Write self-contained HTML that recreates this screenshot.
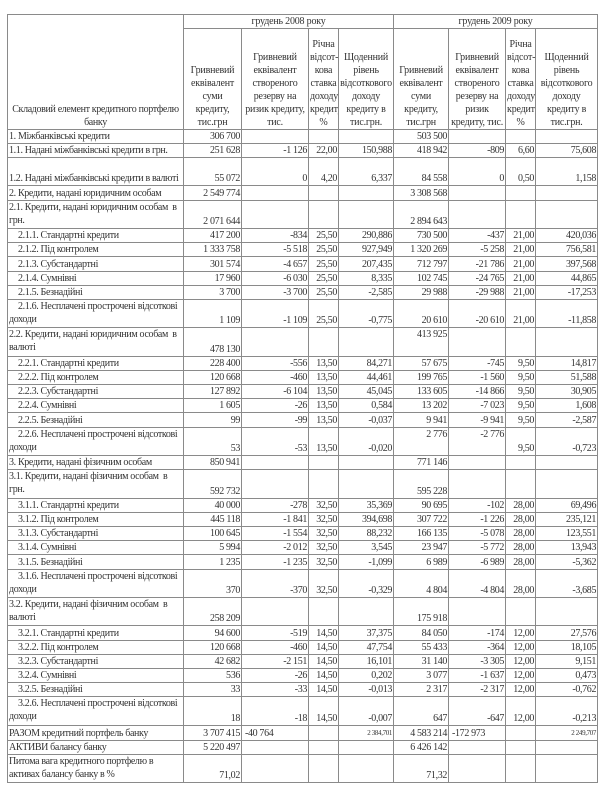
<!DOCTYPE html>
<html><head><meta charset="utf-8">
<style>
html,body{margin:0;padding:0;background:#fff;width:604px;height:795px;overflow:hidden}
table{position:absolute;left:7px;top:14px;border-collapse:collapse;table-layout:fixed;width:591px;
font-family:"Liberation Serif","DejaVu Serif",serif;font-size:10px;color:#333;letter-spacing:-0.35px}
td{border:1px solid #8a8a8a;padding:0 1px;line-height:13px;vertical-align:bottom;text-align:right;white-space:nowrap;overflow:hidden}
td.l{text-align:left;white-space:normal}
td.i{padding-left:10px}
td.t{vertical-align:top}
tr.s{height:14.2px}
tr.d{height:28.4px}
tr.d td.l{vertical-align:top}
.h td{text-align:center;white-space:normal;line-height:13px;padding:0 1px;letter-spacing:-0.2px}
.sm{font-size:7px}
</style></head><body>
<table>
<colgroup><col style="width:176px"><col style="width:58px"><col style="width:67px"><col style="width:30px"><col style="width:55px"><col style="width:55px"><col style="width:57px"><col style="width:30px"><col style="width:62px"></colgroup>
<tr class="h" style="height:13px"><td rowspan="2" style="letter-spacing:-0.35px">Складовий елемент кредитного портфелю банку</td><td colspan="4" style="vertical-align:top">грудень 2008 року</td><td colspan="4" style="vertical-align:top">грудень 2009 року</td></tr>
<tr class="h" style="height:101px"><td>Гривневий еквівалент суми кредиту, тис.грн</td><td>Гривневий еквівалент створеного резерву на ризик кредиту, тис.</td><td>Річна відсот-кова ставка доходу кредиту, %</td><td>Щоденний рівень відсоткового доходу кредиту в тис.грн.</td><td>Гривневий еквівалент суми кредиту, тис.грн</td><td>Гривневий еквівалент створеного резерву на ризик кредиту, тис.</td><td>Річна відсот-кова ставка доходу кредиту, %</td><td>Щоденний рівень відсоткового доходу кредиту в тис.грн.</td></tr>
<tr class="s" style="height:12px"><td class="l">1. Міжбанківські кредити</td><td>306 700</td><td></td><td></td><td></td><td>503 500</td><td></td><td></td><td></td></tr>
<tr class="s" style="height:13px"><td class="l">1.1. Надані міжбанківські кредити в грн.</td><td>251 628</td><td>-1 126</td><td>22,00</td><td>150,988</td><td>418 942</td><td>-809</td><td>6,60</td><td>75,608</td></tr>
<tr class="d"><td class="l" style="vertical-align:bottom">1.2. Надані міжбанківські кредити в валюті</td><td>55 072</td><td>0</td><td>4,20</td><td>6,337</td><td>84 558</td><td>0</td><td>0,50</td><td>1,158</td></tr>
<tr class="s"><td class="l">2. Кредити, надані юридичним особам</td><td>2 549 774</td><td></td><td></td><td></td><td>3 308 568</td><td></td><td></td><td></td></tr>
<tr class="d"><td class="l">2.1. Кредити, надані юридичним особам&nbsp; в грн.</td><td>2 071 644</td><td></td><td></td><td></td><td>2 894 643</td><td></td><td></td><td></td></tr>
<tr class="s"><td class="l i">2.1.1. Стандартні кредити</td><td>417 200</td><td>-834</td><td>25,50</td><td>290,886</td><td>730 500</td><td>-437</td><td>21,00</td><td>420,036</td></tr>
<tr class="s"><td class="l i">2.1.2. Під контролем</td><td>1 333 758</td><td>-5 518</td><td>25,50</td><td>927,949</td><td>1 320 269</td><td>-5 258</td><td>21,00</td><td>756,581</td></tr>
<tr class="s"><td class="l i">2.1.3. Субстандартні</td><td>301 574</td><td>-4 657</td><td>25,50</td><td>207,435</td><td>712 797</td><td>-21 786</td><td>21,00</td><td>397,568</td></tr>
<tr class="s"><td class="l i">2.1.4. Сумнівні</td><td>17 960</td><td>-6 030</td><td>25,50</td><td>8,335</td><td>102 745</td><td>-24 765</td><td>21,00</td><td>44,865</td></tr>
<tr class="s"><td class="l i">2.1.5. Безнадійні</td><td>3 700</td><td>-3 700</td><td>25,50</td><td>-2,585</td><td>29 988</td><td>-29 988</td><td>21,00</td><td>-17,253</td></tr>
<tr class="d"><td class="l"><span style="padding-left:9px">2.1.6. Несплачені прострочені відсоткові</span> доходи</td><td>1 109</td><td>-1 109</td><td>25,50</td><td>-0,775</td><td>20 610</td><td>-20 610</td><td>21,00</td><td>-11,858</td></tr>
<tr class="d"><td class="l">2.2. Кредити, надані юридичним особам&nbsp; в валюті</td><td>478 130</td><td></td><td></td><td></td><td class="t">413 925</td><td></td><td></td><td></td></tr>
<tr class="s"><td class="l i">2.2.1. Стандартні кредити</td><td>228 400</td><td>-556</td><td>13,50</td><td>84,271</td><td>57 675</td><td>-745</td><td>9,50</td><td>14,817</td></tr>
<tr class="s"><td class="l i">2.2.2. Під контролем</td><td>120 668</td><td>-460</td><td>13,50</td><td>44,461</td><td>199 765</td><td>-1 560</td><td>9,50</td><td>51,588</td></tr>
<tr class="s"><td class="l i">2.2.3. Субстандартні</td><td>127 892</td><td>-6 104</td><td>13,50</td><td>45,045</td><td>133 605</td><td>-14 866</td><td>9,50</td><td>30,905</td></tr>
<tr class="s"><td class="l i">2.2.4. Сумнівні</td><td>1 605</td><td>-26</td><td>13,50</td><td>0,584</td><td>13 202</td><td>-7 023</td><td>9,50</td><td>1,608</td></tr>
<tr class="s"><td class="l i">2.2.5. Безнадійні</td><td>99</td><td>-99</td><td>13,50</td><td>-0,037</td><td>9 941</td><td>-9 941</td><td>9,50</td><td>-2,587</td></tr>
<tr class="d"><td class="l"><span style="padding-left:9px">2.2.6. Несплачені прострочені відсоткові</span> доходи</td><td>53</td><td>-53</td><td>13,50</td><td>-0,020</td><td class="t">2 776</td><td class="t">-2 776</td><td>9,50</td><td>-0,723</td></tr>
<tr class="s"><td class="l">3. Кредити, надані фізичним особам</td><td>850 941</td><td></td><td></td><td></td><td>771 146</td><td></td><td></td><td></td></tr>
<tr class="d"><td class="l">3.1. Кредити, надані фізичним особам&nbsp; в грн.</td><td>592 732</td><td></td><td></td><td></td><td>595 228</td><td></td><td></td><td></td></tr>
<tr class="s"><td class="l i">3.1.1. Стандартні кредити</td><td>40 000</td><td>-278</td><td>32,50</td><td>35,369</td><td>90 695</td><td>-102</td><td>28,00</td><td>69,496</td></tr>
<tr class="s"><td class="l i">3.1.2. Під контролем</td><td>445 118</td><td>-1 841</td><td>32,50</td><td>394,698</td><td>307 722</td><td>-1 226</td><td>28,00</td><td>235,121</td></tr>
<tr class="s"><td class="l i">3.1.3. Субстандартні</td><td>100 645</td><td>-1 554</td><td>32,50</td><td>88,232</td><td>166 135</td><td>-5 078</td><td>28,00</td><td>123,551</td></tr>
<tr class="s"><td class="l i">3.1.4. Сумнівні</td><td>5 994</td><td>-2 012</td><td>32,50</td><td>3,545</td><td>23 947</td><td>-5 772</td><td>28,00</td><td>13,943</td></tr>
<tr class="s"><td class="l i">3.1.5. Безнадійні</td><td>1 235</td><td>-1 235</td><td>32,50</td><td>-1,099</td><td>6 989</td><td>-6 989</td><td>28,00</td><td>-5,362</td></tr>
<tr class="d"><td class="l"><span style="padding-left:9px">3.1.6. Несплачені прострочені відсоткові</span> доходи</td><td>370</td><td>-370</td><td>32,50</td><td>-0,329</td><td>4 804</td><td>-4 804</td><td>28,00</td><td>-3,685</td></tr>
<tr class="d"><td class="l">3.2. Кредити, надані фізичним особам&nbsp; в валюті</td><td>258 209</td><td></td><td></td><td></td><td>175 918</td><td></td><td></td><td></td></tr>
<tr class="s"><td class="l i">3.2.1. Стандартні кредити</td><td>94 600</td><td>-519</td><td>14,50</td><td>37,375</td><td>84 050</td><td>-174</td><td>12,00</td><td>27,576</td></tr>
<tr class="s"><td class="l i">3.2.2. Під контролем</td><td>120 668</td><td>-460</td><td>14,50</td><td>47,754</td><td>55 433</td><td>-364</td><td>12,00</td><td>18,105</td></tr>
<tr class="s"><td class="l i">3.2.3. Субстандартні</td><td>42 682</td><td>-2 151</td><td>14,50</td><td>16,101</td><td>31 140</td><td>-3 305</td><td>12,00</td><td>9,151</td></tr>
<tr class="s"><td class="l i">3.2.4. Сумнівні</td><td>536</td><td>-26</td><td>14,50</td><td>0,202</td><td>3 077</td><td>-1 637</td><td>12,00</td><td>0,473</td></tr>
<tr class="s"><td class="l i">3.2.5. Безнадійні</td><td>33</td><td>-33</td><td>14,50</td><td>-0,013</td><td>2 317</td><td>-2 317</td><td>12,00</td><td>-0,762</td></tr>
<tr class="d"><td class="l"><span style="padding-left:9px">3.2.6. Несплачені прострочені відсоткові</span> доходи</td><td>18</td><td>-18</td><td>14,50</td><td>-0,007</td><td>647</td><td>-647</td><td>12,00</td><td>-0,213</td></tr>
<tr class="s"><td class="l">РАЗОМ кредитний портфель банку</td><td>3 707 415</td><td style="text-align:left;padding-left:3px">-40 764</td><td></td><td><span class="sm">2 384,701</span></td><td>4 583 214</td><td style="text-align:left;padding-left:3px">-172 973</td><td></td><td><span class="sm">2 249,707</span></td></tr>
<tr class="s"><td class="l">АКТИВИ балансу банку</td><td>5 220 497</td><td></td><td></td><td></td><td>6 426 142</td><td></td><td></td><td></td></tr>
<tr class="d"><td class="l">Питома вага кредитного портфелю в активах балансу банку в %</td><td>71,02</td><td></td><td></td><td></td><td>71,32</td><td></td><td></td><td></td></tr>
</table>
</body></html>
